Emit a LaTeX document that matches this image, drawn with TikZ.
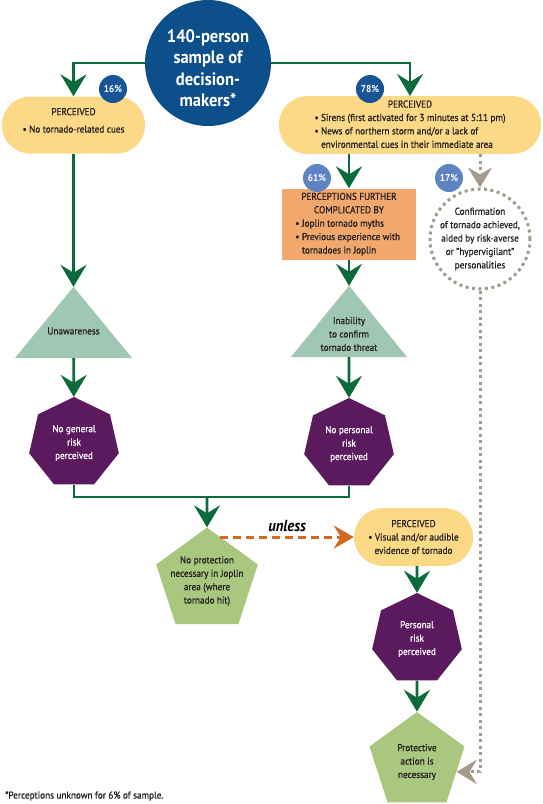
\documentclass[tikz,border=0pt]{standalone}
\usepackage{fontspec}
\setmainfont{PT Sans}[FakeStretch=0.92, UprightFeatures={FakeBold=0.7}]
\usetikzlibrary{shapes.geometric,arrows.meta,calc}
\definecolor{cblue}{HTML}{0D4F8B}
\definecolor{cbadge}{HTML}{175597}
\definecolor{clbadge}{HTML}{5D83C2}
\definecolor{cyellow}{HTML}{FBD986}
\definecolor{corange}{HTML}{F2A86C}
\definecolor{cteal}{HTML}{9FC7B4}
\definecolor{cpurple}{HTML}{5B1A5E}
\definecolor{cgreen}{HTML}{A9C77E}
\definecolor{agreen}{HTML}{0C6B3A}
\definecolor{aorange}{HTML}{D06A22}
\definecolor{agrey}{HTML}{A39A89}
\definecolor{ctext}{HTML}{231F20}
\begin{document}
\begin{tikzpicture}[x=1pt,y=-1pt,
  font=\fontsize{10}{13.4}\selectfont, text=ctext,
  garrow/.style={draw=agreen, line width=2.8pt, -{Stealth[length=22pt,width=26pt,inset=8pt]}},
  gline/.style={draw=agreen, line width=2.8pt},
  oarrow/.style={draw=aorange, line width=3pt, dash pattern=on 8pt off 5pt, -{Stealth[length=20pt,width=23pt,inset=7pt]}},
  grarrow/.style={draw=agrey, line width=3pt, dash pattern=on 3pt off 3.5pt, -{Stealth[length=20pt,width=24pt,inset=7pt]}},
  bigc/.style={circle, fill=cblue, minimum size=126pt, inner sep=0pt},
  bigtext/.style={text=white, align=center, inner sep=0pt, font=\bfseries\fontsize{18}{21.5}\selectfont},
  ylw/.style={rectangle, fill=cyellow, rounded corners=28pt, minimum height=57pt, inner sep=2pt, align=center},
  badge/.style={circle, fill=cbadge, minimum size=28pt, inner sep=0pt, text=white, font=\bfseries\fontsize{10}{12}\selectfont},
  obox/.style={rectangle, fill=corange, minimum width=134pt, minimum height=70pt, inner sep=2pt},
  tribox/.style={rectangle, inner sep=0pt},
  tritext/.style={align=center, inner sep=0pt},
  hept/.style={regular polygon, regular polygon sides=7, minimum size=92pt, inner sep=0pt, fill=cpurple, text=white, align=center},
  pent/.style={regular polygon, regular polygon sides=5, minimum size=100pt, inner sep=-6pt, fill=cgreen, align=center},
  dcirc/.style={circle, draw=agrey, line width=3pt, dash pattern=on 3pt off 3.5pt, minimum size=100pt, inner sep=-4pt, align=center}
]
\useasboundingbox (0,0) rectangle (543,804);

% top circle
\node[bigc] (c) at (208,63) {};
\node[bigtext] (ct) at (208,68) {140-person\\sample of\\decision-\\makers*};

% perceived boxes
\node[ylw, minimum width=143pt] (lb) at (73.5,125) {PERCEIVED\\[4pt]\textbullet\ No tornado-related cues\\[-4pt]\mbox{}};
\node[ylw, minimum width=262pt] (rb) at (410,125) {\begin{tabular}{@{}l@{\ }l@{}}
\multicolumn{2}{c}{PERCEIVED}\\
\textbullet & Sirens (first activated for 3 minutes at 5:11 pm)\\
\textbullet & News of northern storm and/or a lack of\\
 & environmental cues in their immediate area
\end{tabular}};

% orange box
\node[obox] (ob) at (349,224) {\begin{tabular}{@{}l@{\ }l@{}}
\multicolumn{2}{c}{PERCEPTIONS FURTHER}\\
\multicolumn{2}{c}{COMPLICATED BY}\\
\textbullet & Joplin tornado myths\\
\textbullet & Previous experience with\\
 & tornadoes in Joplin
\end{tabular}};

% dotted circle
\node[dcirc] (cf) at (480,239) {Confirmation\\of tornado achieved,\\aided by risk-averse\\or "hypervigilant"\\personalities};

% triangles
\node[tribox, minimum width=117pt, minimum height=71pt] (t1) at (73.5,322.5) {};
\fill[cteal] (t1.north) -- (t1.south west) -- (t1.south east) -- cycle;
\node[tritext] (t1l) at (73.5,331) {Unawareness};
\node[tribox, minimum width=116pt, minimum height=71pt] (t2) at (349,321.5) {};
\fill[cteal] (t2.north) -- (t2.south west) -- (t2.south east) -- cycle;
\node[tritext] (t2l) at (349,334) {Inability\\to confirm\\tornado threat};

% heptagons
\node[hept] (h1) at (74,443) {No general\\risk\\perceived};
\node[hept] (h2) at (349,444) {No personal\\risk\\perceived};
\node[hept] (h3) at (417,639) {Personal\\risk\\perceived};

% pentagons
\node[pent] (p1) at (207,581) {No protection\\necessary in Joplin\\area (where\\tornado hit)};
\node[pent] (p2) at (417,762) {Protective\\action is\\necessary};

% bottom perceived box
\node[ylw, minimum width=119pt, minimum height=58pt, rounded corners=29pt] (y3) at (413.5,537) {PERCEIVED\\\textbullet\ Visual and/or audible\\evidence of tornado};

% connectors
\draw[garrow] (c) -| (lb);
\draw[garrow] (c) -| (rb);
\draw[garrow] (lb) -- (t1);
\draw[garrow] (t1) -- (h1);
\draw[garrow] (ob.north |- rb.south) -- (ob);
\draw[garrow] (ob) -- (t2);
\draw[garrow] (t2) -- (h2);
\coordinate (m) at (207,497);
\draw[gline] (h1.south) |- (m) -| (h2.south);
\draw[garrow] (m) -- (p1);
\draw[oarrow] (p1.73) -- (p1.73 -| y3.west) node[midway, above=1pt, text=black, font=\bfseries\itshape\fontsize{16}{18}\selectfont] (ul) {unless};
\draw[garrow] (h3.north |- y3.south) -- (h3);
\draw[garrow] (h3) -- (p2);
\draw[grarrow] (cf.north |- rb.south) -- (cf);
\draw[grarrow] (cf) |- (p2.-14);

% badges
\node[badge] (b16) at (113,89) {16\%};
\node[badge] (b78) at (370,89) {78\%};
\node[badge, fill=clbadge] (b61) at (317,178) {61\%};
\node[badge, fill=clbadge] (b17) at (449,178) {17\%};

% footnote
\node[anchor=west, inner sep=0pt] (fn) at (5,796) {*Perceptions unknown for 6\% of sample.};
\end{tikzpicture}
\end{document}
